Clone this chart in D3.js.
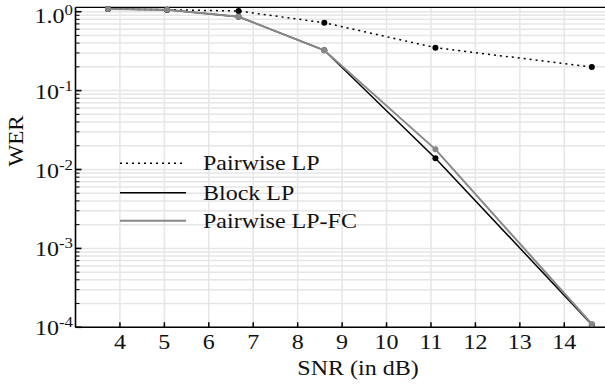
<!DOCTYPE html>
<html>
<head>
<meta charset="utf-8">
<script src="https://cdn.jsdelivr.net/npm/d3@7"></script>
<style>
  html, body { margin: 0; padding: 0; background: #fff; }
  svg { display: block; }
  svg text { font-family: "Liberation Serif", "Times New Roman", Times, Tinos, "DejaVu Serif", "Noto Serif", FreeSerif, serif; }
</style>
</head>
<body>
<svg id="chart" width="605" height="384"></svg>
<script>
// ---- data ----
const snr = [3.73, 5.06, 6.67, 8.60, 11.10, 14.62];
const pairwiseLP = [1.08, 1.06, 1.02, 0.725, 0.35, 0.199];
const blockLP = [1.08, 1.06, 0.864, 0.324, 0.0139, 1.08e-4];
const pairwiseLPFC = [1.08, 1.06, 0.864, 0.324, 0.018, 1.1e-4];
const seriesNames = ["Pairwise LP", "Block LP", "Pairwise LP-FC"];
const xTicks = [4, 5, 6, 7, 8, 9, 10, 11, 12, 13, 14];
const yExponents = [0, -1, -2, -3, -4];

const SX = 1.2; // horizontal stretch of the original figure's text
const svg = d3.select("#chart");
const pL = 75.5, pR = 608.7, pT = 7.3, pB = 327.3;

const x = d3.scaleLinear().domain([3, 15]).range([pL, pR]);
const y = d3.scaleLog().domain([1e-4, Math.pow(10, (11.7 - 7.3) / 78.9)]).range([pB, pT]);

const gridColor = "#e6e6e6";

const yMinor = [];
for (let e = -4; e <= 0; e++) {
  for (let m = 1; m <= 9; m++) {
    const v = m * Math.pow(10, e);
    if (v >= 1e-4 && v <= y.domain()[1]) yMinor.push(v);
  }
}

function label(sel, tx, ty, anchor, size) {
  return sel.append("text")
    .attr("transform", `translate(${tx},${ty}) scale(${SX},1)`)
    .attr("text-anchor", anchor).attr("font-size", size).attr("fill", "#111");
}

// grid
const grid = svg.append("g");
grid.selectAll("line.hg").data(yMinor).join("line")
  .attr("x1", pL).attr("x2", 605)
  .attr("y1", d => y(d)).attr("y2", d => y(d))
  .attr("stroke", gridColor).attr("stroke-width", 1.5);
grid.selectAll("line.vg").data(xTicks).join("line")
  .attr("x1", d => x(d)).attr("x2", d => x(d))
  .attr("y1", pT).attr("y2", pB)
  .attr("stroke", gridColor).attr("stroke-width", 1.5);

// axes frame
svg.append("line").attr("x1", pL).attr("x2", 605).attr("y1", pB).attr("y2", pB)
  .attr("stroke", "#000").attr("stroke-width", 1.6);
svg.append("line").attr("x1", pL).attr("x2", 605).attr("y1", pT).attr("y2", pT)
  .attr("stroke", "#000").attr("stroke-width", 1.3);
svg.append("line").attr("x1", pL).attr("x2", pL).attr("y1", pT).attr("y2", pB)
  .attr("stroke", "#000").attr("stroke-width", 1.6);

// x ticks (inward)
svg.append("g").selectAll("line").data(xTicks).join("line")
  .attr("x1", d => x(d)).attr("x2", d => x(d))
  .attr("y1", pB).attr("y2", pB - 5)
  .attr("stroke", "#000").attr("stroke-width", 1.5);
const xl = svg.append("g");
xTicks.forEach(t => label(xl, x(t), 349, "middle", 20).text(t));

// y ticks
const majors = yExponents.map(e => Math.pow(10, e));
const isMajor = d => majors.some(m => Math.abs(m - d) / d < 1e-6);
svg.append("g").selectAll("line").data(yMinor).join("line")
  .attr("x1", pL).attr("x2", d => isMajor(d) ? pL + 6 : pL + 4)
  .attr("y1", d => y(d)).attr("y2", d => y(d))
  .attr("stroke", "#000").attr("stroke-width", d => isMajor(d) ? 1.6 : 1);

const yl = svg.append("g");
yExponents.forEach(e => {
  const t = label(yl, 73, e === 0 ? 23 : y(Math.pow(10, e)) + 8, "end", 20);
  t.append("tspan").text(e === 0 ? "1.0" : "10");
  t.append("tspan").attr("dy", -8).attr("font-size", 14).text(e === 0 ? "0" : String(e));
});

// axis labels
label(svg, 358, 375, "middle", 20).text("SNR (in dB)");
svg.append("text").attr("transform", "translate(23,141) rotate(-90) scale(1.15,1)")
  .attr("text-anchor", "middle").attr("font-size", 20).attr("fill", "#111").text("WER");

// series
const series = [
  { name: seriesNames[0], vals: pairwiseLP, color: "#000", width: 1.5, dash: "2,4", r: 3 },
  { name: seriesNames[1], vals: blockLP, color: "#000", width: 1.5, dash: null, r: 3 },
  { name: seriesNames[2], vals: pairwiseLPFC, color: "#888", width: 2, dash: null, r: 3 }
];
const line = d3.line().x(d => x(d[0])).y(d => y(d[1]));
const plot = svg.append("g");
series.forEach(s => {
  const pts = snr.map((v, i) => [v, s.vals[i]]);
  plot.append("path").datum(pts).attr("d", line)
    .attr("fill", "none").attr("stroke", s.color).attr("stroke-width", s.width)
    .attr("stroke-dasharray", s.dash);
  plot.selectAll(null).data(pts).join("circle")
    .attr("cx", d => x(d[0])).attr("cy", d => y(d[1])).attr("r", s.r)
    .attr("fill", s.color);
});

// legend
const legY = [163.3, 192.7, 220.7];
const leg = svg.append("g");
series.forEach((s, i) => {
  leg.append("line").attr("x1", 120).attr("x2", 186).attr("y1", legY[i]).attr("y2", legY[i])
    .attr("stroke", s.color).attr("stroke-width", s.width).attr("stroke-dasharray", s.dash);
  label(leg, 203, legY[i] + 7, "start", 20).text(s.name);
});
</script>
</body>
</html>
